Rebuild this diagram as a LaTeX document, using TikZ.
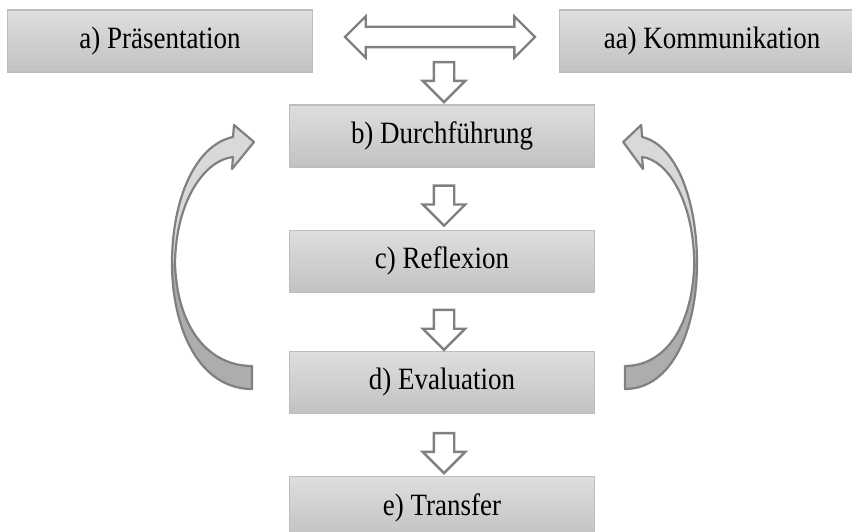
\documentclass[tikz,border=0pt]{standalone}
\usepackage{fontspec}
\setmainfont[FakeStretch=0.87]{Liberation Serif}
\usetikzlibrary{arrows.meta,positioning,shapes.arrows,calc}

\definecolor{boxtop}{HTML}{DEDEDE}
\definecolor{boxbot}{HTML}{C2C2C2}
\definecolor{boxline}{HTML}{BDBDBD}
\definecolor{arrline}{HTML}{808080}
\definecolor{bandlight}{HTML}{D9D9D9}
\definecolor{banddark}{HTML}{ADADAD}

% band of a curved block arrow, local x grows away from the tail
\newcommand{\bandpath}{(0,389) .. controls (52,389) and (80,330) .. (80,263)
  .. controls (80,200) and (57,145) .. (19,137) -- (18,125) -- (-2,142)
  -- (20,169) -- (19,157) .. controls (47,160) and (76,200) .. (77,263)
  .. controls (75,330) and (42,366) .. (0,366) -- cycle}

\begin{document}
\begin{tikzpicture}[
  x=1pt, y=-1pt,
  every node/.style={font=\fontsize{31}{36}\selectfont},
  stagebox/.style={draw=boxline, line width=1.2pt, top color=boxtop,
                   bottom color=boxbot, minimum width=305pt,
                   minimum height=62pt, inner sep=0pt},
  flowarrow/.style={single arrow, draw=arrline, fill=white, line width=2.4pt,
                    shape border rotate=270, minimum height=40pt,
                    inner xsep=9pt, inner ysep=0pt,
                    single arrow head extend=11pt,
                    single arrow head indent=0pt},
  linkarrow/.style={double arrow, draw=arrline, fill=white, line width=2.4pt,
                    minimum height=190pt, inner xsep=0pt, inner ysep=9pt,
                    double arrow head extend=10.5pt,
                    double arrow head indent=0pt}
]
  \useasboundingbox (0,0) rectangle (852,532);

  % top row
  \node[stagebox] (a) at (160,41) {a) Präsentation};
  \node[stagebox] (aa) at (712,41) {aa) Kommunikation};
  \node[linkarrow] (link) at (440,37) {};

  % main column
  \node[stagebox] (b) at (442,136) {b) Durchführung};
  \node[stagebox, below=62pt of b] (c) {c) Reflexion};
  \node[stagebox, below=58pt of c] (d) {d) Evaluation};
  \node[stagebox, below=62pt of d] (e) {e) Transfer};

  \node[flowarrow] (top) at (444,77) {};
  \node[flowarrow] (bc) at ($(b.south)!0.5!(c.north)+(2,2)$) {};
  \node[flowarrow] (cd) at ($(c.south)!0.5!(d.north)+(2,3)$) {};
  \node[flowarrow] (de) at ($(d.south)!0.5!(e.north)+(2,3)$) {};

  % curved feedback arrows
  \foreach \tailx/\dir in {252/-1, 625/0.9} {
    \begin{scope}[shift={(\tailx,0)}, xscale=\dir]
      \fill[banddark] \bandpath;
      \begin{scope}
        \clip (-10,100) rectangle (100,263);
        \fill[bandlight] \bandpath;
      \end{scope}
      \draw[arrline, line width=2.2pt, line join=round] \bandpath;
    \end{scope}
  }
\end{tikzpicture}
\end{document}
